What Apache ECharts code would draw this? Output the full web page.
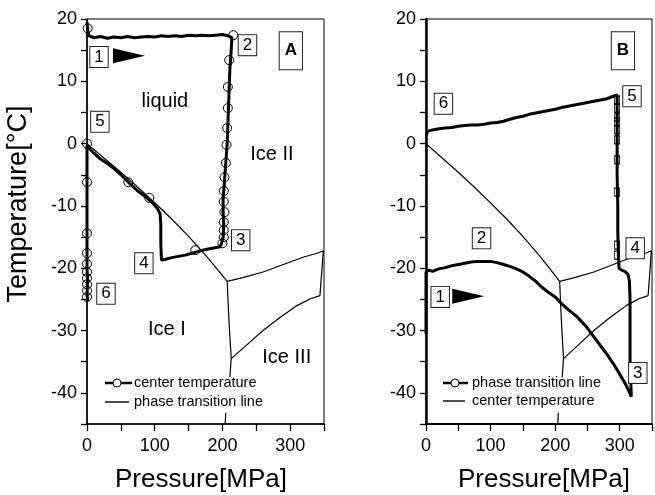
<!DOCTYPE html>
<html><head><meta charset="utf-8">
<script src="https://cdn.jsdelivr.net/npm/echarts@6/dist/echarts.min.js"></script>
<style>html,body{margin:0;padding:0;background:#fff}#c{width:655px;height:495px}</style>
</head><body><div id="c"></div>
<script>
// ---- tick labels ----
const xTickLabels = [0, 100, 200, 300];
const yTickLabels = [-40, -30, -20, -10, 0, 10, 20];

// ---- phase diagram (same in both panels) [pressure MPa, temperature °C] ----
const phaseLiquidIceI = [[0,0],[25,-2.3],[50,-4.6],[75,-7.0],[100,-9.5],[125,-12.1],[150,-14.9],[175,-17.9],[195,-20.5],[207,-22.1]];
const phaseIceIIceIII = [[207,-22.1],[209,-27],[211,-31],[213,-34.5],[211,-37.5]];
const phaseIceILow = [[205,-43.2],[204,-45]];
const phaseLiquidIceIII = [[207,-22.1],[230,-21.5],[260,-20.6],[290,-19.4],[320,-18.2],[340,-17.6],[349,-17.2]];
const phaseIceIIIceIII = [[213,-34.5],[236,-32.3],[260,-30.0],[285,-27.9],[310,-26.0],[330,-24.9],[344,-24.4]];
const phaseIceIIIceV = [[344,-24.4],[349,-17.2]];

// ---- panel A: center temperature ----
const centerA = [
 [0,19.5],[1,18.3],[3,17.3],[10,17.0],[20,17.2],[30,16.9],[40,17.1],[50,17.0],[60,17.2],[70,17.0],[80,17.1],[90,17.2],
 [100,17.1],[110,17.3],[120,17.2],[130,17.3],[140,17.2],[150,17.4],[160,17.3],[170,17.4],[180,17.3],[190,17.4],[200,17.5],[208,17.3],[214,17.0],
 [213,15],[211,12],[210,9],[209,6],[208,3],[207,0],[205,-3],[203,-6],[201,-9],[201,-11],[202,-13],[201,-15],[198,-16.3],[195,-16.6],
 [185,-16.8],[175,-17.0],[165,-17.3],[155,-17.6],[145,-17.9],[135,-18.1],[125,-18.3],[115,-18.6],[110,-18.7],
 [109,-16],[109,-13],[108,-11.3],
 [104,-10.4],[95,-9.3],[85,-8.4],[75,-7.6],[63,-6.4],[50,-5.0],[40,-4.0],[30,-3.2],[19,-2.4],[10,-1.5],[3,-0.7],[0,-0.3],
 [0,-5],[0,-10],[0,-15],[0,-20],[1,-22],[0,-24],[1,-25.3]
];
const circlesA = [[1,18.5],[216,17.4],[210,13.4],[208,9.1],[208,5.7],[207,2.5],[206,-0.2],[205,-3.1],[203,-5.4],[202,-7.6],[202,-9.3],[203,-11.0],[202,-12.6],[202,-13.9],[202,-15.0],[200,-16.0],[160,-17.1],
 [0,0],[61,-6.2],[92,-8.7],[0,-6.2],[0,-14.4],[0,-17.6],[0,-19.3],[0,-20.6],[0,-21.6],[0,-22.6],[0,-23.6],[0,-24.6]];

// ---- panel B: center temperature ----
const centerB = [
 [0,-30.5],[0,-25],[0,-20.6],[5,-20.3],[10,-20.5],[20,-20.1],[30,-19.9],[40,-19.6],[50,-19.4],[60,-19.2],[70,-19.0],[80,-18.9],[90,-18.9],
 [100,-18.9],[110,-19.1],[120,-19.4],[130,-19.7],[140,-20.1],[150,-20.6],[160,-21.3],[170,-22.1],[180,-23.1],[190,-23.9],[200,-24.6],
 [210,-25.7],[220,-26.6],[235,-27.9],[250,-29.6],[260,-31.0],[270,-32.4],[280,-33.8],[290,-35.3],[300,-37.0],[310,-38.8],[318,-40.6],
 [317,-38],[316,-35],[316,-30],[316,-25],[315,-22],[313,-21],[308,-20.5],[303,-20.3],[299,-20.0],[298,-18],[297,-14],[297,-10],[296,-5],[296,0],[296,4],[296,7],[296,7.8],
 [290,7.6],[280,7.2],[270,7.0],[260,6.8],[250,6.6],[240,6.4],[230,6.2],[220,6.0],[210,5.8],[200,5.5],[190,5.3],[180,5.1],[170,4.9],[160,4.7],
 [150,4.4],[140,4.2],[130,3.9],[120,3.6],[110,3.4],[100,3.3],[90,3.1],[80,3.0],[70,3.0],[60,2.9],[50,2.8],[40,2.6],[30,2.5],[20,2.4],[10,2.2],[3,2.0],[0,1.3]
];
const rectsB = [[296,7.0],[296,5.7],[296,4.3],[296,3.5],[296,2.2],[296,0.6],[296,-2.6],[296,-7.8],[296,-16.3],[296,-17.9]];

// ---- annotations (data coordinates) ----
const boxesA = [['1',17.7,13.9],['2',237,15.8],['3',227,-15.5],['4',84,-19.2],['5',19,3.5],['6',28,-24.1]];
const boxesB = [['1',22,-24.6],['2',86,-15.2],['3',328,-36.8],['4',324,-16.8],['5',319,7.6],['6',27,6.4]];
const panelTagA = ['A',301,14.9];
const panelTagB = ['B',305,14.9];
const regionsA = [['liquid',115,6.7],['Ice II',273,-1.8],['Ice I',118,-29.9],['Ice III',295,-34.3]];
const arrowA = [62,14.1];
const arrowB = [65.4,-24.5];

const FONT = 'Liberation Sans, Arial, Helvetica, sans-serif';
const chart = echarts.init(document.getElementById('c'), null, {renderer:'canvas'});

function xAxisCfg(gi, lw){
  return {gridIndex:gi, type:'value', min:0, max:350, interval:50,
    axisLine:{onZero:false, lineStyle:{color:'#000', width:lw}},
    axisTick:{inside:false, length:7, lineStyle:{color:'#000', width:1.3}},
    axisLabel:{color:'#000', fontSize:18, fontFamily:FONT, margin:13,
      formatter: v => xTickLabels.includes(v) ? String(v) : ''},
    splitLine:{show:false}};
}
function yAxisCfg(gi, lw){
  return {gridIndex:gi, type:'value', min:-45, max:20, interval:5,
    axisLine:{onZero:false, lineStyle:{color:'#000', width:lw}},
    axisTick:{inside:false, length:6, lineStyle:{color:'#000', width:1.3}},
    axisLabel:{color:'#000', fontSize:18, fontFamily:FONT, margin:10,
      formatter: v => yTickLabels.includes(v) ? String(v) : ''},
    splitLine:{show:false}};
}
function lineS(gi, data, w){
  return {type:'line', xAxisIndex:gi, yAxisIndex:gi, data:data, showSymbol:false, symbol:'none',
    lineStyle:{color:'#000', width:w}, animation:false, silent:true};
}
function boxSeries(gi, boxes, tag){
  const d = boxes.map(b => ({name:b[0], value:[b[1],b[2]]}));
  d.push({name:tag[0], value:[tag[1],tag[2]], label:{padding:[10,5,10,5], fontWeight:'bold'}});
  return {type:'scatter', xAxisIndex:gi, yAxisIndex:gi, data:d, symbolSize:1, clip:false, z:5,
    itemStyle:{color:'rgba(0,0,0,0)', opacity:1}, animation:false, silent:true,
    label:{show:true, position:'inside', formatter:p=>p.name, color:'#000', opacity:1, fontSize:17, fontFamily:FONT,
      lineHeight:17, borderColor:'#222', borderWidth:1, padding:[2,4,1,4], backgroundColor:'#fff'}};
}
const arrowPath = 'path://M0,0L32,7.5L0,15Z';

const series = [
  lineS(0, phaseLiquidIceI, 1.2), lineS(0, phaseIceIIceIII, 1.2), lineS(0, phaseIceILow, 1.2),
  lineS(0, phaseLiquidIceIII, 1.2), lineS(0, phaseIceIIIceIII, 1.2), lineS(0, phaseIceIIIceV, 1.2),
  lineS(0, centerA, 3),
  {type:'scatter', xAxisIndex:0, yAxisIndex:0, data:circlesA, symbol:'circle', symbolSize:9, clip:false,
    itemStyle:{color:'rgba(0,0,0,0)', borderColor:'#000', borderWidth:1, opacity:1}, animation:false, silent:true},
  boxSeries(0, boxesA, panelTagA),
  {type:'scatter', xAxisIndex:0, yAxisIndex:0, symbolSize:1, itemStyle:{color:'rgba(0,0,0,0)', opacity:1}, clip:false, animation:false, silent:true, z:5,
    data: regionsA.map(r=>({name:r[0], value:[r[1],r[2]]})),
    label:{show:true, position:'inside', formatter:p=>p.name, color:'#000', opacity:1, fontSize:20, fontFamily:FONT}},
  {type:'scatter', xAxisIndex:0, yAxisIndex:0, data:[arrowA], symbol:arrowPath, symbolSize:[32,15],
    itemStyle:{color:'#000', opacity:1}, animation:false, silent:true},
  lineS(1, phaseLiquidIceI, 1.2), lineS(1, phaseIceIIceIII, 1.2), lineS(1, phaseIceILow, 1.2),
  lineS(1, phaseLiquidIceIII, 1.2), lineS(1, phaseIceIIIceIII, 1.2), lineS(1, phaseIceIIIceV, 1.2),
  lineS(1, centerB, 3),
  {type:'scatter', xAxisIndex:1, yAxisIndex:1, data:rectsB, symbol:'rect', symbolSize:[5,8], clip:false,
    itemStyle:{color:'rgba(0,0,0,0)', borderColor:'#000', borderWidth:1, opacity:1}, animation:false, silent:true},
  boxSeries(1, boxesB, panelTagB),
  {type:'scatter', xAxisIndex:1, yAxisIndex:1, data:[arrowB], symbol:arrowPath, symbolSize:[32,15],
    itemStyle:{color:'#000', opacity:1}, animation:false, silent:true}
];

function legendGraphics(x0, x1, xc, xt, y1, y2, t1, t2){
  return [
    {type:'line', shape:{x1:x0, y1:y1, x2:x1, y2:y1}, style:{stroke:'#000', lineWidth:2.5}},
    {type:'circle', shape:{cx:xc, cy:y1, r:4}, style:{stroke:'#000', fill:'#fff', lineWidth:1}},
    {type:'text', x:xt, y:y1, style:{text:t1, font:'14.5px '+FONT, fill:'#000', textAlign:'left', textVerticalAlign:'middle'}},
    {type:'line', shape:{x1:x0, y1:y2, x2:x1-3, y2:y2}, style:{stroke:'#000', lineWidth:1.4}},
    {type:'text', x:xt, y:y2, style:{text:t2, font:'14.5px '+FONT, fill:'#000', textAlign:'left', textVerticalAlign:'middle'}}
  ];
}

chart.setOption({
  animation:false,
  backgroundColor:'#fff',
  grid:[
    {left:87, top:19, width:237, height:405, show:true, borderColor:'#000', borderWidth:1, backgroundColor:'transparent'},
    {left:426, top:19, width:235.5, height:405, show:true, borderColor:'#000', borderWidth:1, backgroundColor:'transparent'}
  ],
  xAxis:[xAxisCfg(0,1.5), xAxisCfg(1,2)],
  yAxis:[yAxisCfg(0,1.5), yAxisCfg(1,2.5)],
  series:series,
  graphic:[
    {type:'text', x:19, y:204, rotation:Math.PI/2, style:{text:'Temperature[°C]', font:'27px '+FONT, fill:'#000', textAlign:'center', textVerticalAlign:'middle'}},
    {type:'text', x:201, y:480, style:{text:'Pressure[MPa]', font:'26px '+FONT, fill:'#000', textAlign:'center', textVerticalAlign:'middle'}},
    {type:'text', x:544, y:480, style:{text:'Pressure[MPa]', font:'26px '+FONT, fill:'#000', textAlign:'center', textVerticalAlign:'middle'}},
    ...legendGraphics(105, 132, 117, 134, 383, 402, 'center temperature', 'phase transition line'),
    ...legendGraphics(443, 468, 455, 472, 383, 401, 'phase transition line', 'center temperature')
  ]
});
</script>
</body></html>
